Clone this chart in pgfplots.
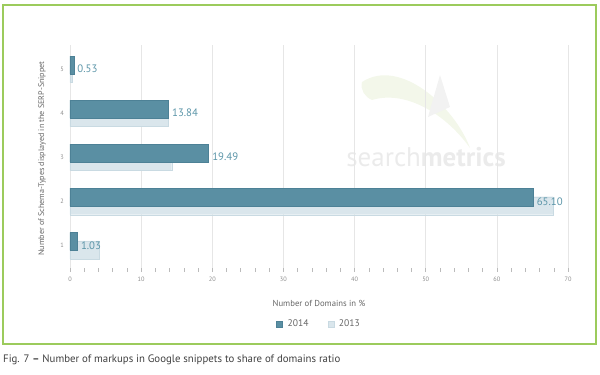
\documentclass[border=0pt]{standalone}
\usepackage{fontspec}
\setmainfont{PT Sans}
\usepackage{pgfplots}
\pgfplotsset{compat=1.18}
\definecolor{dark}{HTML}{5A8FA3}
\definecolor{darkedge}{HTML}{4D8196}
\definecolor{light}{HTML}{DAE6EC}
\definecolor{lightedge}{HTML}{C9DAE2}
\definecolor{lbl}{HTML}{5B95A8}
\definecolor{framegreen}{HTML}{9CCB5C}
\definecolor{gridc}{HTML}{E6E6E6}
\definecolor{tickc}{HTML}{BBBBBB}
\definecolor{txt}{HTML}{666666}
\definecolor{swoosh}{HTML}{F3F7EA}
\begin{document}
\begin{tikzpicture}
\path[use as bounding box] (0,0) rectangle (600pt,375pt);
% watermark
\fill[swoosh] (362pt,293pt) .. controls (400pt,318pt) and (455pt,268pt) .. (470pt,227pt)
  .. controls (445pt,262pt) and (405pt,285pt) .. (372pt,275pt) .. controls (365pt,278pt) and (360pt,285pt) .. cycle;
\fill[black!5] (440pt,300pt) -- (428pt,258pt) -- (450pt,268pt) -- cycle;
\node[text=black!8, font=\fontsize{27}{27}\selectfont, inner sep=0pt] at (426pt,218pt) {search\textbf{metrics}};
\draw[framegreen, line width=1.2pt] (3pt,31pt) rectangle (596pt,370pt);
\node[anchor=west, inner sep=0pt, text=black!75, font=\fontsize{10.8}{12}\selectfont] at (3pt,15pt) {Fig. 7 \textbf{--} Number of markups in Google snippets to share of domains ratio};
\begin{axis}[
  at={(70pt,103pt)}, anchor=south west,
  scale only axis, width=498pt, height=227pt,
  xbar, clip=false,
  xmin=0, xmax=70, ymin=0.394, ymax=5.545,
  xtick={0,10,...,70}, minor x tick num=4, ytick={1,2,3,4,5},
  axis line style={draw=none},
  xmajorgrids, major grid style={gridc, line width=0.6pt},
  xtick pos=left, tick align=inside,
  major tick length=4pt, minor tick length=4pt,
  x tick style={tickc, line width=0.5pt},
  minor x tick style={tickc, line width=0.5pt},
  y tick style={draw=none},
  /pgf/number format/assume math mode=true,
  xticklabel style={anchor=center, yshift=-7pt, font=\fontsize{6.3}{7}\selectfont, text=black!45},
  yticklabel style={anchor=center, xshift=-8pt, font=\fontsize{6.3}{7}\selectfont, text=black!45},
  xlabel={Number of Domains in \%},
  xlabel style={at={(axis description cs:0.5,-0.1366)}, anchor=center, font=\fontsize{8.7}{10}\selectfont, text=txt},
  ylabel={Number of Schema-Types displayed in the SERP-Snippet},
  ylabel style={at={(axis description cs:-0.0562,0.5)}, anchor=center, font=\fontsize{8.1}{10}\selectfont, text=txt},
  legend style={at={(axis description cs:0.5,-0.229)}, anchor=center, draw=none, fill=none,
    font=\fontsize{9.6}{11}\selectfont, text=txt,
    /tikz/every odd column/.append style={column sep=3pt},
    /tikz/every even column/.append style={column sep=17pt}},
  legend columns=2, reverse legend,
  legend image code/.code={\fill[#1] (0pt,-3pt) rectangle (6pt,3pt);},
]
\addplot[fill=light, draw=lightedge, bar width=18pt, bar shift=-4.5pt]
  coordinates {(4.1,1) (67.9,2) (14.3,3) (13.8,4) (0.35,5)};
\addlegendentry{2013}
\addplot[fill=dark, draw=darkedge, bar width=18pt, bar shift=4pt,
  point meta=x,
  nodes near coords={\pgfmathprintnumber[fixed,fixed zerofill,precision=2]{\pgfplotspointmeta}},
  nodes near coords style={anchor=west, inner sep=1pt, xshift=2.5pt, yshift=-4pt, text=lbl, font=\fontsize{10.8}{12}\selectfont}]
  coordinates {(1.03,1) (65.10,2) (19.49,3) (13.84,4) (0.53,5)};
\addlegendentry{2014}
\end{axis}
\end{tikzpicture}
\end{document}
